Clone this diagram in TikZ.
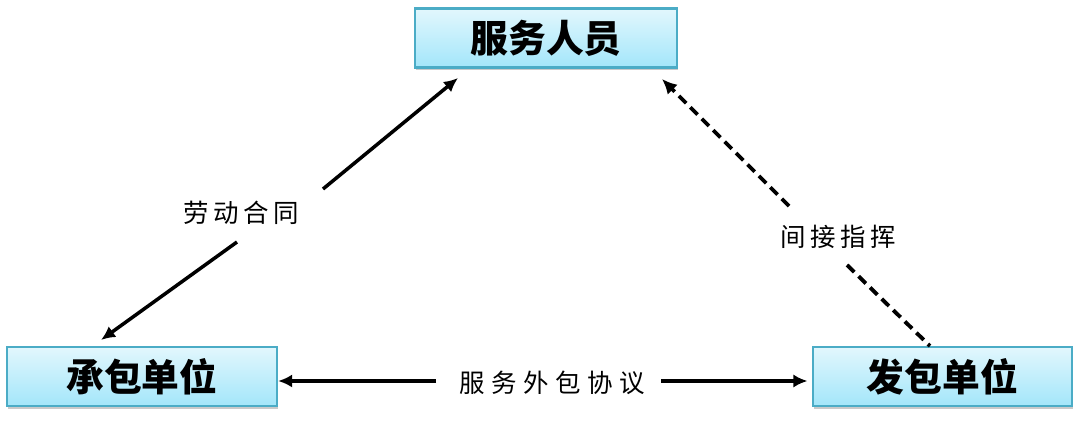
\documentclass[tikz,border=0pt]{standalone}
\usepackage{fontspec}
\newfontfamily\cjk{Noto Sans CJK SC}
\newfontfamily\cjklab[LetterSpace=18]{Noto Sans CJK SC}
\newfontfamily\cjklabw[LetterSpace=26]{Noto Sans CJK SC}
\usetikzlibrary{arrows.meta,shadows}
\definecolor{boxborder}{HTML}{4BACC6}
\definecolor{boxtop}{HTML}{E2F7FD}
\definecolor{boxbot}{HTML}{A3E6FA}
\tikzset{
  party/.style={rectangle, draw=boxborder, line width=1.3pt, top color=boxtop, bottom color=boxbot,
    minimum height=1.18cm, inner sep=0pt, font=\cjk\bfseries\fontsize{21.5}{24}\selectfont,
    drop shadow={shadow xshift=0.6pt, shadow yshift=-1.6pt, opacity=0.35, fill=black!60}},
  lab/.style={inner sep=0pt, font=\cjklab\fontsize{14.5}{16}\selectfont},
  labw/.style={inner sep=0pt, font=\cjklabw\fontsize{14.5}{16}\selectfont},
  arr/.style={line width=2pt, -{Latex[length=8pt,width=7.5pt]}},
  darr/.style={line width=2.2pt, dash pattern=on 5.8pt off 3.4pt, -{Latex[length=8.5pt,width=8pt]}},
  dline/.style={line width=2.2pt, dash pattern=on 5.8pt off 3.4pt},
}
\begin{document}
\begin{tikzpicture}[x=0.02cm, y=-0.02cm]
\useasboundingbox (0,0) rectangle (1080,432);
\node[party, minimum width=5.24cm] (staff) at (546,38) {服务人员};
\node[party, minimum width=5.40cm] (contractor) at (142,376.5) {承包单位};
\node[party, minimum width=5.18cm] (client) at (942.5,376.5) {发包单位};
\node[lab] (labor) at (241,213) {劳动合同};
\node[lab] (direct) at (838,237) {间接指挥};
\node[labw] (outsrc) at (552,383) {服务外包协议};
% left connector
\coordinate (a1) at (237,242);
\coordinate (a2) at (101,340);
\coordinate (b1) at (323,189);
\coordinate (b2) at (458,78);
\draw[arr] (a1) -- (a2);
\draw[arr] (b1) -- (b2);
% right dashed connector
\coordinate (c1) at (789,206);
\coordinate (c2) at (662,79);
\coordinate (d1) at (930,346);
\coordinate (d2) at (847,265);
\draw[darr] (c1) -- (c2);
\draw[dline] (d2) -- (d1);
% bottom connector
\coordinate (e1) at (436,381);
\coordinate (e2) at (661,381);
\draw[arr] (e1) -- (contractor.east |- e1);
\draw[arr] (e2) -- ([xshift=-2.5pt]client.west |- e2);
\end{tikzpicture}
\end{document}
